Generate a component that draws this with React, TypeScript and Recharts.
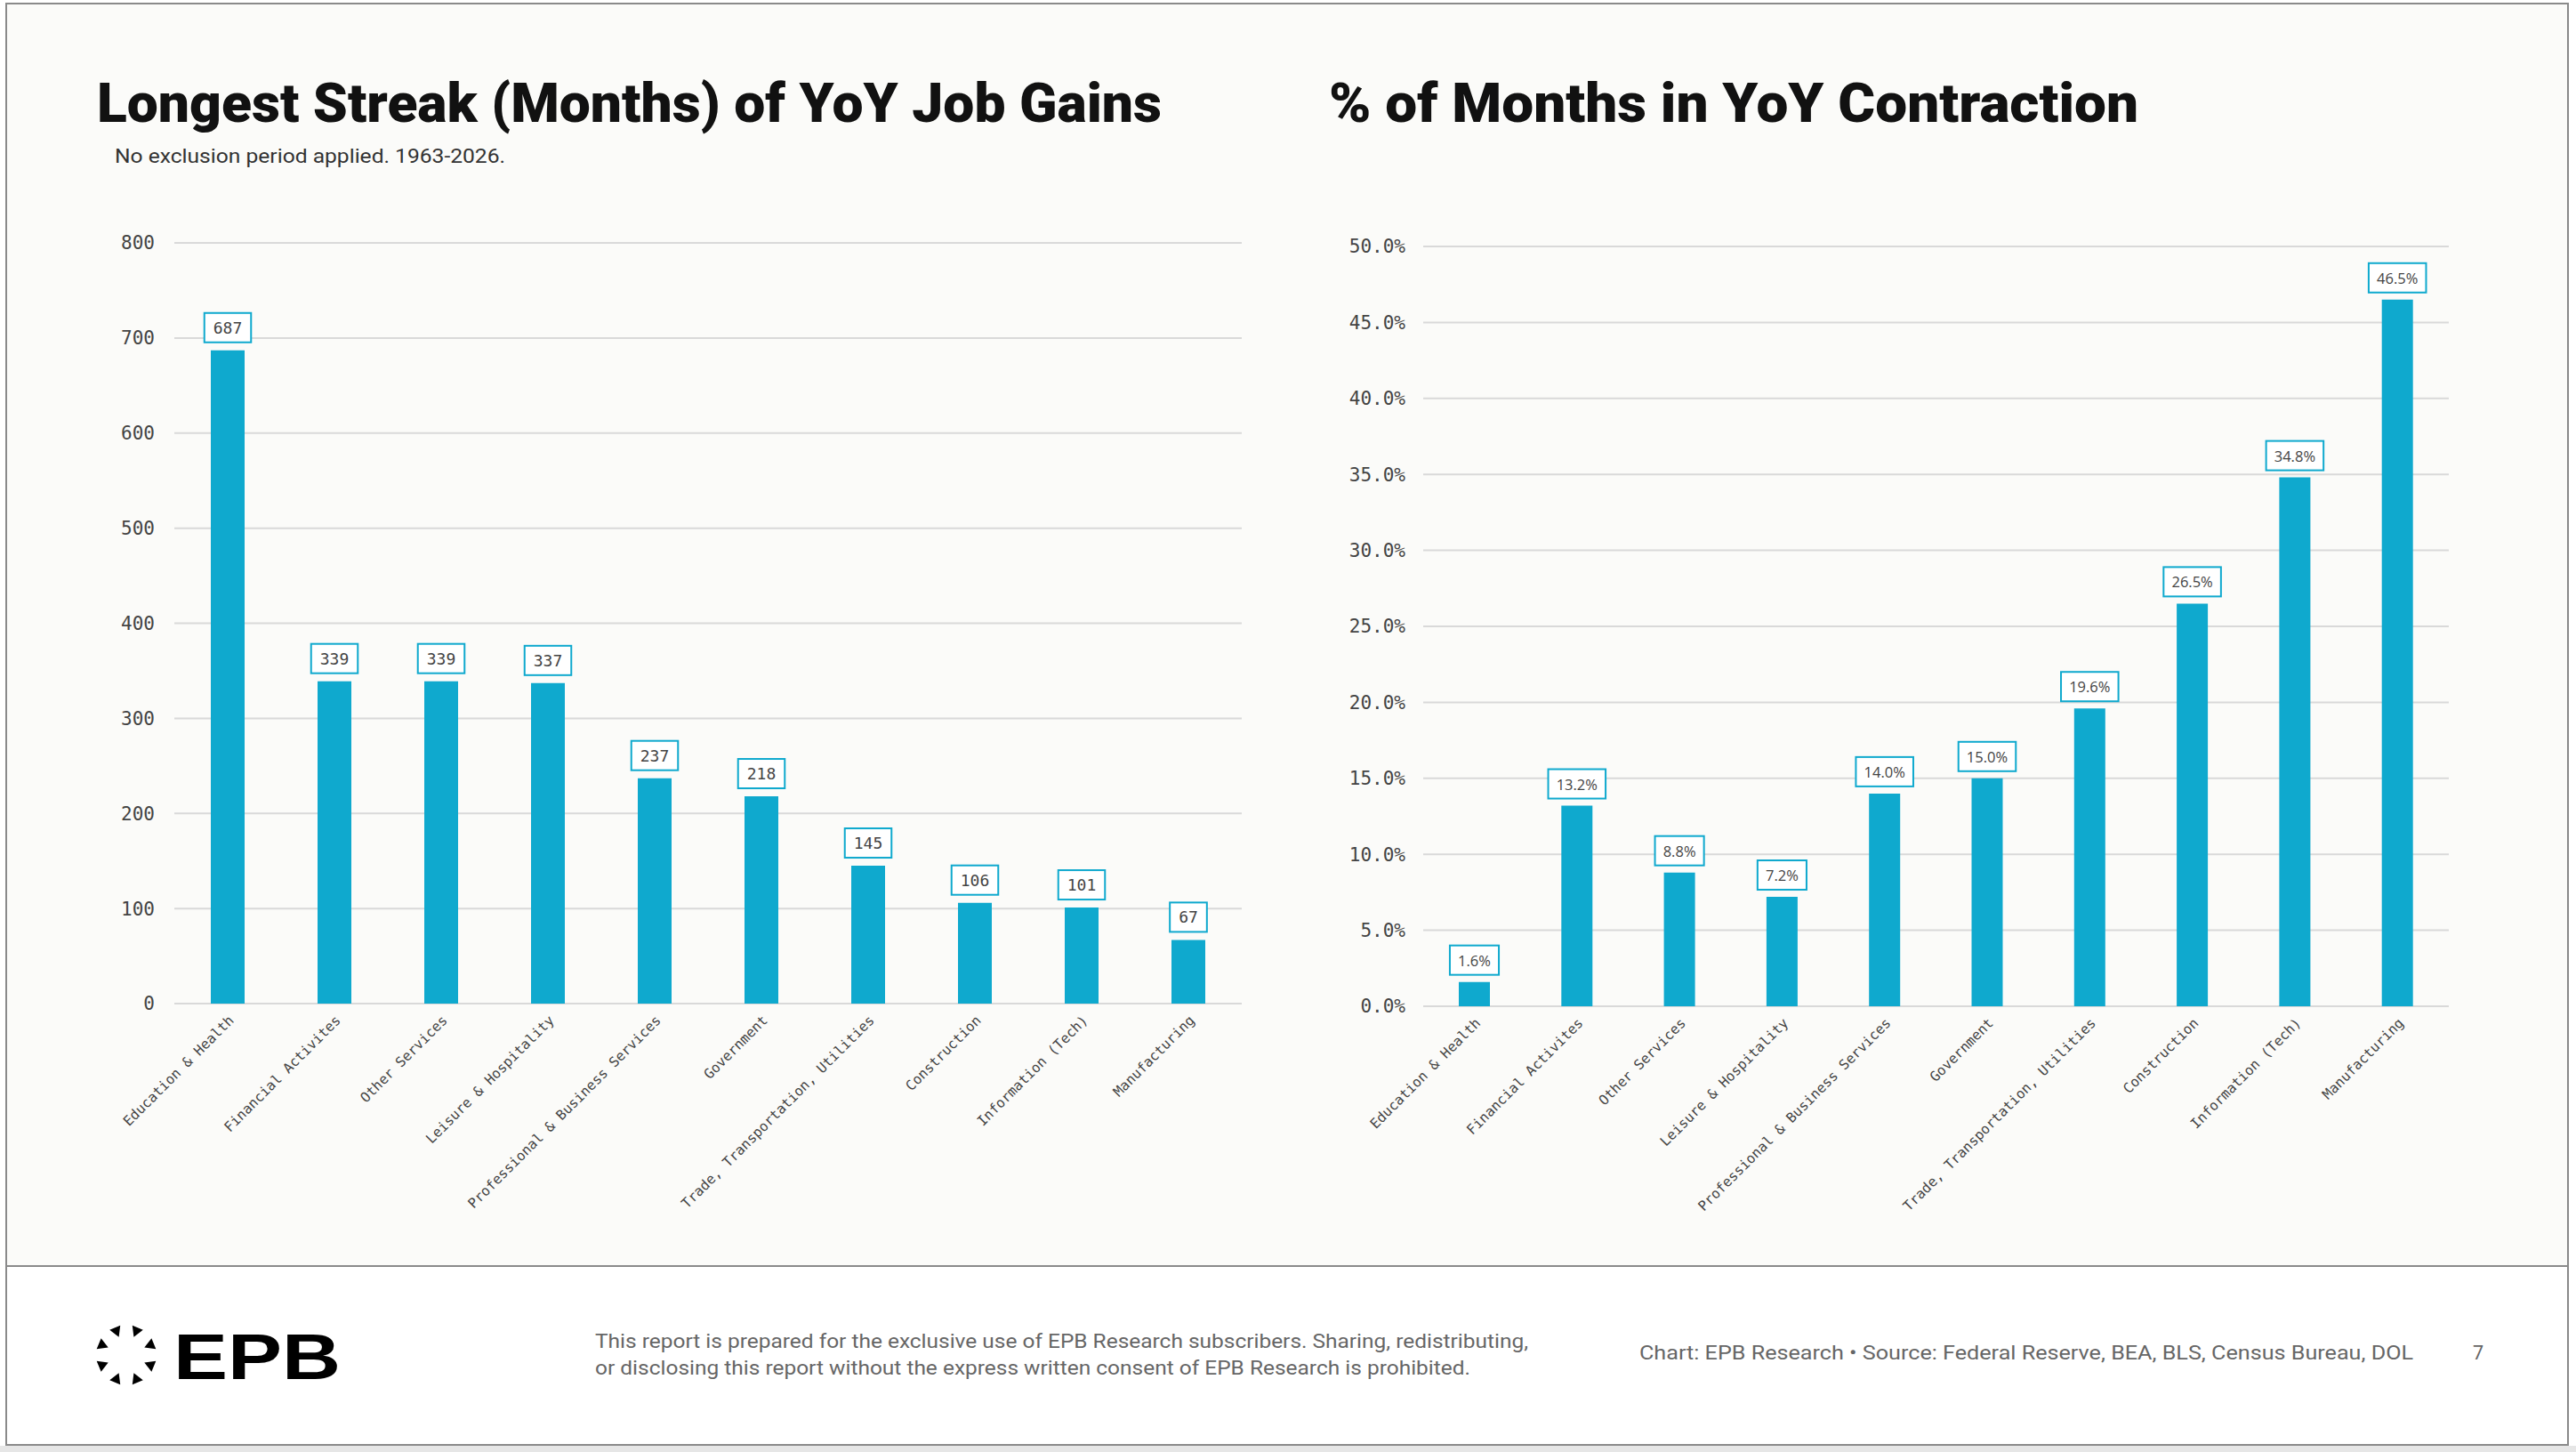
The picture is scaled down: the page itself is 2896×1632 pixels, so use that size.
import React from 'react';
import { BarChart, Bar, XAxis, YAxis, CartesianGrid, LabelList } from 'recharts';

const categories = [
  'Education & Health',
  'Financial Activites',
  'Other Services',
  'Leisure & Hospitality',
  'Professional & Business Services',
  'Government',
  'Trade, Transportation, Utilities',
  'Construction',
  'Information (Tech)',
  'Manufacturing',
];
const streakMonths = [687, 339, 339, 337, 237, 218, 145, 106, 101, 67];
const contractionPct = [1.6, 13.2, 8.8, 7.2, 14.0, 15.0, 19.6, 26.5, 34.8, 46.5];
const streakTicks = [0, 100, 200, 300, 400, 500, 600, 700, 800];
const pctTicks = [0, 5, 10, 15, 20, 25, 30, 35, 40, 45, 50];

const streakData = categories.map((name, i) => ({ name, value: streakMonths[i] }));
const pctData = categories.map((name, i) => ({ name, value: contractionPct[i] }));

const BLUE = '#0fa9ce';
const MONO = '"DejaVu Sans Mono", "Liberation Mono", monospace';
const SANS = 'Roboto, "Liberation Sans", sans-serif';

// rough width of the percent label in Open Sans, used for the box size
const pctTextWidth = (s: string, fs: number) =>
  s.split('').reduce((w, c) => w + (c === '.' ? 0.267 : c === '%' ? 0.838 : 0.572) * fs, 0);

const monoBox = (p: any) => {
  const txt = String(p.value);
  const fs = 18;
  const w = txt.length * fs * 0.602 + 20;
  const h = 33;
  const cx = Number(p.x) + Number(p.width) / 2;
  const bottom = Number(p.y) - 9;
  return (
    <g>
      <rect x={cx - w / 2} y={bottom - h} width={w} height={h} fill="#fff" stroke={BLUE} strokeWidth={2} />
      <text x={cx} y={bottom - h / 2} textAnchor="middle" dominantBaseline="central" fontFamily={MONO} fontSize={fs} fill="#444">
        {txt}
      </text>
    </g>
  );
};

const pctBox = (p: any) => {
  const txt = Number(p.value).toFixed(1) + '%';
  const fs = 16.5;
  const w = pctTextWidth(txt, fs) + 18;
  const h = 33;
  const cx = Number(p.x) + Number(p.width) / 2;
  const bottom = Number(p.y) - 8;
  return (
    <g>
      <rect x={cx - w / 2} y={bottom - h} width={w} height={h} fill="#fff" stroke={BLUE} strokeWidth={2} />
      <text x={cx} y={bottom - h / 2} textAnchor="middle" dominantBaseline="central" fontFamily='"Open Sans", sans-serif' fontSize={fs} fill="#444">
        {txt}
      </text>
    </g>
  );
};

const xTick = { fontFamily: MONO, fontSize: 15.5, fill: '#444' };
const yTick = { fontFamily: MONO, fontSize: 21, fill: '#444' };

const Logo = () => {
  const cx = 142;
  const cy = 1523;
  const marks = [0, 1, 2, 3, 4, 5, 6, 7].map((k) => {
    const a = ((-112.5 + 45 * k) * Math.PI) / 180;
    const d = (11 * Math.PI) / 180;
    const pt = (r: number, ang: number) => `${cx + r * Math.cos(ang)},${cy + r * Math.sin(ang)}`;
    return <polygon key={k} points={`${pt(34, a - d)} ${pt(34, a + d)} ${pt(22, a)}`} fill="#000" />;
  });
  return (
    <g>
      {marks}
      <text x={195} y={1550} fontFamily='"Liberation Sans", Arial, sans-serif' fontWeight={700} fontSize={72} textLength={188} lengthAdjust="spacingAndGlyphs" fill="#000">
        EPB
      </text>
    </g>
  );
};

export default function App() {
  return (
    <div style={{ position: 'absolute', left: 0, top: 0, width: 2896, height: 1632, background: '#fff', overflow: 'hidden' }}>
      <div style={{ position: 'absolute', left: 0, top: 1625, width: 2896, height: 7, background: '#e6e6e6' }} />
      <div style={{ position: 'absolute', left: 6, top: 3, width: 2878, height: 1618, border: '2px solid #8a8a8a', background: '#fff' }}>
        <div style={{ position: 'absolute', left: 0, top: 0, width: 2878, height: 1417, background: '#fbfbf9', borderBottom: '2px solid #8a8a8a' }} />
      </div>

      <div style={{ position: 'absolute', left: 0, top: 0 }}>
        <BarChart width={1420} height={1400} data={streakData} margin={{ top: 273, right: 24, left: 116, bottom: 72 }}>
          <CartesianGrid vertical={false} stroke="#d9d9d9" strokeWidth={2} />
          <XAxis dataKey="name" interval={0} angle={-45} textAnchor="end" height={200} tick={xTick} axisLine={false} tickLine={false} tickSize={0} tickMargin={12} />
          <YAxis domain={[0, 800]} ticks={streakTicks} width={80} tick={yTick} axisLine={false} tickLine={false} tickSize={0} tickMargin={22} />
          <Bar dataKey="value" fill={BLUE} barSize={38} isAnimationActive={false}>
            <LabelList dataKey="value" content={monoBox} />
          </Bar>
        </BarChart>
      </div>

      <div style={{ position: 'absolute', left: 1440, top: 0 }}>
        <BarChart width={1440} height={1400} data={pctData} margin={{ top: 277, right: 127, left: 80, bottom: 69 }}>
          <CartesianGrid vertical={false} stroke="#d9d9d9" strokeWidth={2} />
          <XAxis dataKey="name" interval={0} angle={-45} textAnchor="end" height={200} tick={xTick} axisLine={false} tickLine={false} tickSize={0} tickMargin={12} />
          <YAxis domain={[0, 50]} ticks={pctTicks} width={80} tick={yTick} tickFormatter={(v: number) => v.toFixed(1) + '%'} axisLine={false} tickLine={false} tickSize={0} tickMargin={20} />
          <Bar dataKey="value" fill={BLUE} barSize={35} isAnimationActive={false}>
            <LabelList dataKey="value" content={pctBox} />
          </Bar>
        </BarChart>
      </div>

      <svg width={2896} height={1632} style={{ position: 'absolute', left: 0, top: 0, pointerEvents: 'none' }}>
        <text x={109} y={137} fontFamily={SANS} fontWeight={900} fontSize={62} textLength={1197} lengthAdjust="spacingAndGlyphs" fill="#111">
          Longest Streak (Months) of YoY Job Gains
        </text>
        <text x={129} y={183} fontFamily={SANS} fontSize={22} textLength={439} lengthAdjust="spacingAndGlyphs" fill="#333">
          No exclusion period applied. 1963-2026.
        </text>
        <text x={1494} y={137} fontFamily={SANS} fontWeight={900} fontSize={62} textLength={910} lengthAdjust="spacingAndGlyphs" fill="#111">
          % of Months in YoY Contraction
        </text>

        <Logo />
        <text x={669} y={1515} fontFamily={SANS} fontSize={21.5} textLength={1049} lengthAdjust="spacingAndGlyphs" fill="#666">
          This report is prepared for the exclusive use of EPB Research subscribers. Sharing, redistributing,
        </text>
        <text x={669} y={1545} fontFamily={SANS} fontSize={21.5} textLength={984} lengthAdjust="spacingAndGlyphs" fill="#666">
          or disclosing this report without the express written consent of EPB Research is prohibited.
        </text>
        <text x={1843} y={1528} fontFamily={SANS} fontSize={21.5} textLength={870} lengthAdjust="spacingAndGlyphs" fill="#666">
          Chart: EPB Research  •  Source: Federal Reserve, BEA, BLS, Census Bureau, DOL
        </text>
        <text x={2780} y={1528} fontFamily={SANS} fontSize={21.5} fill="#666">
          7
        </text>
      </svg>
    </div>
  );
}
